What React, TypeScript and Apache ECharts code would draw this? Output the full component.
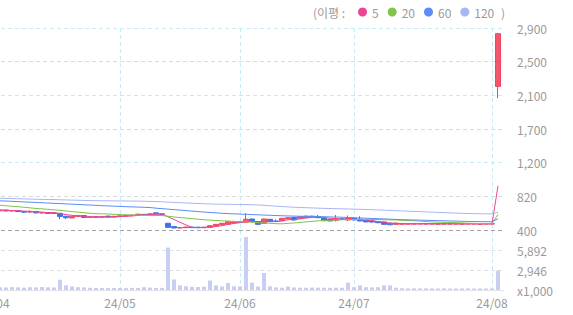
import React, { useEffect, useRef } from "react";
import * as echarts from "echarts";

// Trading days shown (KRX, 2024)
const APR = [1, 2, 3, 4, 5, 8, 9, 11, 12, 15, 16, 17, 18, 19, 22, 23, 24, 25, 26, 29, 30];
const MAY = [2, 3, 7, 8, 9, 10, 13, 14, 16, 17, 20, 21, 22, 23, 24, 27, 28, 29, 30, 31];
const JUN = [3, 4, 5, 7, 10, 11, 12, 13, 14, 17, 18, 19, 20, 21, 24, 25, 26, 27, 28];
const JUL = [1, 2, 3, 4, 5, 8, 9, 10, 11, 12, 15, 16, 17, 18, 19, 22, 23, 24, 25, 26, 29, 30, 31];
const AUG = [1, 2];

const pad = (n: number) => (n < 10 ? "0" + n : "" + n);
const DATES: string[] = [
  ...APR.map((d) => `24/04/${pad(d)}`),
  ...MAY.map((d) => `24/05/${pad(d)}`),
  ...JUN.map((d) => `24/06/${pad(d)}`),
  ...JUL.map((d) => `24/07/${pad(d)}`),
  ...AUG.map((d) => `24/08/${pad(d)}`),
];

const OPEN = [
  645, 638, 648, 636, 640, 628, 622, 630, 612, 615, 605, 607, 570, 550, 568, 578, 556, 562, 558, 572, 560,
  568, 572, 578, 582, 594, 588, 612, 600, 483, 442, 425, 429, 436, 435, 428, 433, 450, 464, 472, 488,
  502, 495, 536, 505, 483, 533, 512, 515, 538, 555, 545, 550, 560, 568, 545, 530, 520, 540, 525,
  545, 535, 520, 510, 505, 500, 485, 470, 472, 474, 473, 475, 473, 474, 472, 473, 474, 473, 472, 473, 474, 472, 473,
  474, 2177,
];
const CLOSE = [
  640, 648, 636, 640, 628, 620, 630, 612, 615, 605, 612, 568, 552, 570, 580, 555, 562, 558, 563, 560, 570,
  575, 580, 584, 596, 590, 600, 600, 592, 433, 425, 430, 437, 429, 428, 435, 453, 470, 483, 503, 500,
  495, 533, 503, 470, 536, 503, 505, 545, 552, 525, 565, 572, 572, 552, 515, 512, 540, 530, 548,
  525, 512, 500, 498, 490, 470, 465, 485, 478, 477, 478, 477, 478, 477, 476, 478, 476, 477, 476, 478, 477, 476, 477,
  477, 2830,
];
const LOW = [
  635, 632, 630, 628, 622, 615, 608, 605, 602, 598, 600, 533, 535, 545, 560, 550, 550, 552, 554, 556, 556,
  562, 566, 570, 578, 584, 582, 596, 588, 430, 422, 421, 426, 426, 425, 425, 430, 447, 460, 468, 485,
  490, 490, 498, 462, 478, 498, 498, 512, 535, 518, 540, 546, 556, 548, 510, 508, 505, 525, 512,
  520, 508, 496, 494, 486, 466, 460, 466, 470, 471, 470, 472, 471, 471, 469, 470, 471, 470, 469, 470, 471, 469, 470,
  471, 2033,
];
const HIGH = [
  650, 652, 650, 645, 642, 632, 640, 632, 620, 622, 616, 610, 575, 572, 585, 580, 566, 565, 567, 575, 572,
  578, 584, 588, 600, 598, 604, 616, 604, 488, 446, 433, 440, 439, 437, 437, 456, 474, 486, 506, 503,
  505, 607, 540, 508, 540, 536, 530, 548, 556, 565, 568, 576, 575, 585, 550, 534, 586, 545, 580,
  548, 570, 524, 514, 508, 504, 488, 488, 480, 480, 481, 479, 480, 479, 479, 480, 479, 480, 479, 480, 479, 479, 480,
  479, 2830,
];
// volume in thousands of shares
const VOLUME = [
  450, 420, 380, 430, 400, 350, 420, 380, 450, 400, 380, 1530, 700, 520, 420, 380, 330, 300, 310, 290, 300,
  300, 280, 320, 310, 420, 360, 300, 320, 6360, 1580, 690, 560, 480, 450, 500, 1420, 690, 520, 1050, 560,
  540, 7935, 1100, 520, 2550, 560, 380, 350, 520, 380, 350, 340, 360, 350, 340, 330, 350, 340, 1100,
  420, 690, 420, 380, 420, 690, 690, 350, 260, 240, 250, 230, 240, 250, 230, 240, 220, 230, 240, 230, 220, 240, 230,
  250, 2900,
];
const MA5 = [
  645, 645, 642, 641, 638, 634, 631, 626, 621, 616, 615, 602, 590, 581, 576, 565, 564, 565, 564, 560, 563,
  565, 570, 574, 581, 585, 590, 594, 596, 563, 530, 496, 463, 431, 430, 432, 436, 443, 454, 469, 482,
  490, 503, 507, 500, 507, 509, 503, 512, 528, 526, 538, 552, 557, 557, 555, 545, 538, 530, 529,
  531, 531, 523, 517, 505, 494, 485, 482, 478, 475, 477, 477, 477, 477, 477, 477, 477, 477, 477, 477, 477, 477, 477,
  477, 947,
];
const MA20 = [
  712, 706, 700, 694, 688, 681, 674, 667, 662, 656, 650, 643, 636, 628, 621, 614, 607, 602, 600, 598, 594,
  591, 588, 585, 583, 582, 580, 580, 579, 570, 561, 554, 548, 541, 533, 527, 522, 518, 514, 511, 507,
  503, 501, 497, 490, 488, 483, 478, 476, 482, 487, 494, 500, 507, 514, 518, 521, 524, 526, 529,
  530, 531, 529, 529, 530, 527, 525, 524, 520, 517, 514, 510, 505, 500, 497, 495, 493, 490, 488, 484, 482, 480, 479,
  478, 595,
];
const MA60 = [
  765, 761, 758, 755, 751, 748, 744, 741, 737, 734, 730, 727, 723, 720, 716, 712, 709, 705, 701, 698, 695,
  692, 689, 686, 684, 681, 678, 670, 664, 658, 652, 646, 640, 634, 628, 622, 617, 612, 607, 603, 600,
  597, 594, 591, 588, 585, 582, 579, 576, 574, 572, 570, 568, 567, 566, 564, 562, 560, 558, 555,
  552, 549, 546, 543, 540, 537, 534, 531, 528, 526, 524, 522, 520, 518, 516, 514, 512, 510, 508, 506, 505, 504, 503,
  502, 540,
];
const MA120 = [
  795, 793, 791, 789, 787, 785, 783, 781, 779, 777, 776, 774, 772, 770, 768, 766, 764, 763, 762, 761, 760,
  760, 759, 758, 757, 756, 754, 752, 749, 745, 742, 738, 734, 731, 728, 725, 722, 720, 719, 718, 717,
  716, 715, 713, 710, 705, 700, 695, 690, 686, 682, 679, 676, 673, 670, 668, 666, 664, 662, 660,
  658, 656, 654, 651, 648, 645, 642, 639, 636, 633, 630, 627, 624, 621, 618, 615, 612, 609, 606, 604, 602, 601, 600,
  599, 619,
];

// price axis: evenly spaced ticks, labels as printed
const PRICE_TICKS = [400, 816.67, 1233.33, 1650, 2066.67, 2483.33, 2900];
const PRICE_TICK_LABELS = ["400", "820", "1,200", "1,700", "2,100", "2,500", "2,900"];
const VOLUME_TICKS = [0, 2946, 5892, 8838];

const MA_NAMES = ["5", "20", "60", "120"];
const MA_COLORS = ["#ef4398", "#80c44a", "#5a8ef5", "#a9b5f4"];

const FONT = '"Noto Sans CJK KR", "Noto Sans", sans-serif';
const GRAY = "#9a9a9a";
const MONTH_LINE = "#c2edf3";
const NONE = "rgba(0,0,0,0)";

const isMonthStart = (i: number) =>
  i >= 0 && i < DATES.length && (i === 0 || DATES[i].slice(0, 5) !== DATES[i - 1].slice(0, 5));

export default function App() {
  const ref = useRef<HTMLDivElement>(null);

  useEffect(() => {
    if (!ref.current) return;
    const chart = echarts.init(ref.current, null, { renderer: "svg" });
    const ohlc = DATES.map((_, i) => [OPEN[i], CLOSE[i], LOW[i], HIGH[i]]);
    const maSeries = [MA5, MA20, MA60, MA120].map((d, k) => ({
      name: MA_NAMES[k],
      type: "line",
      xAxisIndex: 0,
      yAxisIndex: 0,
      data: d,
      symbol: "none",
      showSymbol: false,
      lineStyle: { width: 1, color: MA_COLORS[k] },
      itemStyle: { color: MA_COLORS[k] },
      z: 3,
    }));
    // one colour per category point: visible only at the first trading day of a month
    const monthColors = [...DATES.map((_, i) => (isMonthStart(i) ? MONTH_LINE : NONE)), NONE];
    const monthSplit = {
      show: true,
      interval: 0,
      lineStyle: { color: monthColors, type: [4, 3], width: 1 },
    };
    chart.setOption({
      animation: false,
      backgroundColor: "#ffffff",
      textStyle: { fontFamily: FONT },
      legend: {
        data: MA_NAMES,
        left: 358,
        top: 6,
        padding: 0,
        icon: "circle",
        itemWidth: 9,
        itemHeight: 9,
        itemGap: 9,
        selectedMode: false,
        textStyle: { color: GRAY, fontSize: 12, fontFamily: FONT },
      },
      graphic: [
        {
          type: "text",
          x: 313,
          y: 12,
          style: { text: "(이평 :", fill: GRAY, font: `12px ${FONT}`, verticalAlign: "middle", align: "left" },
        },
        {
          type: "text",
          x: 501,
          y: 12,
          style: { text: ")", fill: GRAY, font: `12px ${FONT}`, verticalAlign: "middle", align: "left" },
        },
      ],
      grid: [
        { left: -6, width: 510, top: 28, height: 202, containLabel: false, outerBoundsMode: "none" },
        { left: -6, width: 510, top: 231, height: 59, containLabel: false, outerBoundsMode: "none" },
      ],
      xAxis: [
        {
          type: "category",
          gridIndex: 0,
          data: DATES,
          boundaryGap: false,
          max: DATES.length,
          axisLine: { show: false },
          axisTick: { show: false },
          axisLabel: { show: false },
          splitLine: monthSplit,
        },
        {
          type: "category",
          gridIndex: 1,
          data: DATES,
          boundaryGap: false,
          max: DATES.length,
          axisLine: { show: true, lineStyle: { color: "#e4e4e4", width: 1 } },
          axisTick: { show: false },
          axisLabel: {
            interval: 0,
            formatter: (v: string, i: number) => (isMonthStart(i) && v ? v.slice(0, 5) : ""),
            color: GRAY,
            fontSize: 12,
            fontFamily: FONT,
            margin: 6,
            alignMinLabel: "center",
            alignMaxLabel: "center",
          },
          splitLine: monthSplit,
        },
      ],
      yAxis: [
        {
          type: "value",
          gridIndex: 0,
          position: "right",
          min: 400,
          max: 2900,
          axisLine: { show: false },
          axisTick: { show: false, customValues: PRICE_TICKS },
          axisLabel: {
            customValues: PRICE_TICKS,
            formatter: (v: number) => {
              let best = 0;
              PRICE_TICKS.forEach((t, k) => {
                if (Math.abs(t - v) < Math.abs(PRICE_TICKS[best] - v)) best = k;
              });
              return PRICE_TICK_LABELS[best];
            },
            color: GRAY,
            fontSize: 12,
            fontFamily: FONT,
            margin: 13,
          },
          splitLine: {
            show: true,
            lineStyle: {
              color: ["#a3a3a3", "#dadada", "#c2edf3", "#dadada", "#c2edf3", "#dadada", "#c8eef3"],
              type: [4, 3],
              width: 1,
            },
          },
        },
        {
          type: "value",
          gridIndex: 1,
          position: "right",
          min: 0,
          max: VOLUME_TICKS[VOLUME_TICKS.length - 1],
          interval: VOLUME_TICKS[1],
          axisLine: { show: false },
          axisTick: { show: false },
          axisLabel: {
            formatter: (v: number) =>
              v === 0 ? "x1,000" : v >= VOLUME_TICKS[VOLUME_TICKS.length - 1] ? "" : v.toLocaleString("en-US"),
            color: GRAY,
            fontSize: 12,
            fontFamily: FONT,
            margin: 13,
          },
          splitLine: {
            show: true,
            lineStyle: {
              color: [NONE, "#dcdfe8", "#dcdfe8", NONE],
              type: [4, 3],
              width: 1,
            },
          },
        },
      ],
      series: [
        {
          name: "price",
          type: "candlestick",
          xAxisIndex: 0,
          yAxisIndex: 0,
          data: ohlc,
          barWidth: 5,
          itemStyle: {
            color: "#f4566c",
            color0: "#3f72ea",
            borderColor: "#f2465f",
            borderColor0: "#3f72ea",
            borderWidth: 1,
          },
          z: 2,
        },
        ...maSeries,
        {
          name: "volume",
          type: "bar",
          xAxisIndex: 1,
          yAxisIndex: 1,
          data: VOLUME,
          barWidth: 4,
          itemStyle: { color: "#c9cff3" },
        },
      ],
    });
    return () => chart.dispose();
  }, []);

  return (
    <div
      ref={ref}
      style={{ position: "absolute", left: 0, top: 0, width: 573, height: 315, background: "#ffffff" }}
    />
  );
}
